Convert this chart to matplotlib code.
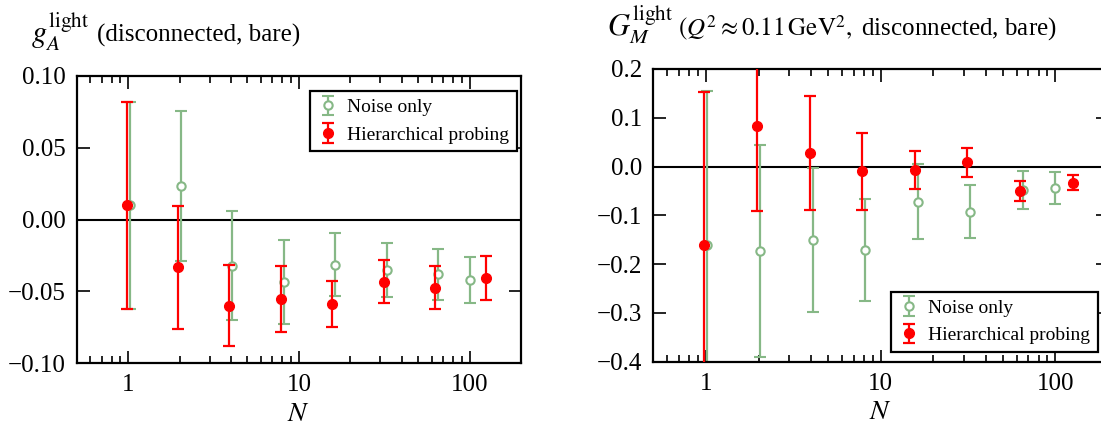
import numpy as np
import matplotlib
matplotlib.use("Agg")
import matplotlib.pyplot as plt

plt.rcParams['font.family'] = ['Liberation Serif', 'DejaVu Serif']
plt.rcParams['mathtext.fontset'] = 'stix'

# N values (number of probing vectors / hierarchical levels)
n_noise = [1, 2, 4, 8, 16, 32, 64, 98]
n_probe = [1, 2, 4, 8, 16, 32, 64, 128]

# g_A light, disconnected, bare
ga_noise = [0.010, 0.0235, -0.032, -0.0434, -0.0315, -0.0352, -0.038, -0.0422]
ga_noise_err = [0.072, 0.052, 0.038, 0.029, 0.022, 0.019, 0.0177, 0.016]
ga_probe = [0.010, -0.0332, -0.0599, -0.0554, -0.0587, -0.0431, -0.0473, -0.0406]
ga_probe_err = [0.072, 0.043, 0.028, 0.023, 0.016, 0.015, 0.015, 0.015]

# G_M light, Q^2 ~ 0.11 GeV^2, disconnected, bare
gm_noise = [-0.160, -0.173, -0.1505, -0.171, -0.0719, -0.0924, -0.049, -0.0445]
gm_noise_err = [0.314, 0.217, 0.147, 0.104, 0.077, 0.055, 0.039, 0.0325]
gm_probe = [-0.1607, 0.0832, 0.0285, -0.0097, -0.007, 0.0088, -0.0494, -0.033]
gm_probe_err = [0.314, 0.174, 0.117, 0.079, 0.039, 0.030, 0.0205, 0.0155]

green = '#86b886'
red = '#ff0000'


def panel(ax, yn, yn_err, yp, yp_err, ylim, yticks, leg_loc, leg_anchor,
          symbol, rest, rest_dx):
    ax.set_xscale('log')
    ax.axhline(0, color='k', lw=1.5, zorder=1)
    ax.errorbar(np.array(n_noise) * 1.02, yn, yerr=yn_err, fmt='o', color=green,
                mfc='white', mec=green, mew=1.5, ms=6, elinewidth=1.6,
                capsize=4.5, capthick=1.6, label='Noise only', zorder=2)
    ax.errorbar(np.array(n_probe) * 0.98, yp, yerr=yp_err, fmt='o', color=red,
                ms=7, elinewidth=1.6, capsize=4.5, capthick=1.6,
                label='Hierarchical probing', zorder=3)
    ax.set_xlim(0.5, 200)
    ax.set_ylim(*ylim)
    ax.set_yticks(yticks)
    ax.set_xticks([1, 10, 100])
    ax.set_xticklabels(['1', '10', '100'])
    ax.set_xlabel('$N$', fontsize=20, labelpad=4)
    ax.tick_params(which='both', direction='in', top=True, right=True,
                   labelsize=18, width=1.2)
    ax.tick_params(which='major', length=9, pad=8)
    ax.tick_params(which='minor', length=5)
    ax.tick_params(axis='y', which='minor', left=False, right=False)
    for s in ax.spines.values():
        s.set_linewidth(1.6)
    leg = ax.legend(loc=leg_loc, bbox_to_anchor=leg_anchor, borderaxespad=0,
                    fontsize=14, fancybox=False, framealpha=1, edgecolor='k',
                    handlelength=1.0, handletextpad=0.5, borderpad=0.4,
                    labelspacing=0.5)
    leg.get_frame().set_linewidth(1.6)
    ax.annotate(symbol, xy=(0, 1), xycoords='axes fraction', xytext=(-46, 34),
                textcoords='offset pixels', ha='left', va='baseline', fontsize=22)
    ax.annotate(rest, xy=(0, 1), xycoords='axes fraction', xytext=(rest_dx, 34),
                textcoords='offset pixels', ha='left', va='baseline', fontsize=18)


fig = plt.figure(figsize=(11.01, 4.28), dpi=100)
ax1 = fig.add_axes([0.0697, 0.1512, 0.4035, 0.6713])
ax2 = fig.add_axes([0.5934, 0.1549, 0.4130, 0.6839])

panel(ax1, ga_noise, ga_noise_err, ga_probe, ga_probe_err, (-0.1, 0.1),
      [-0.10, -0.05, 0.0, 0.05, 0.10], 'upper right', (0.991, 0.948),
      r'$g_A^{\rm light}$', '(disconnected, bare)', 20)
ax1.set_yticklabels(['\u22120.10', '\u22120.05', '0.00', '0.05', '0.10'])

panel(ax2, gm_noise, gm_noise_err, gm_probe, gm_probe_err, (-0.4, 0.2),
      [-0.4, -0.3, -0.2, -0.1, 0.0, 0.1, 0.2], 'lower right', (0.978, 0.033),
      r'$G_M^{\rm light}$',
      r'$(Q^2 \approx 0.11\,{\rm GeV}^2,$ disconnected, bare)', 25)
ax2.set_yticklabels(['\u22120.4', '\u22120.3', '\u22120.2', '\u22120.1', '0.0', '0.1', '0.2'])

fig.savefig('out.png', dpi=100)
